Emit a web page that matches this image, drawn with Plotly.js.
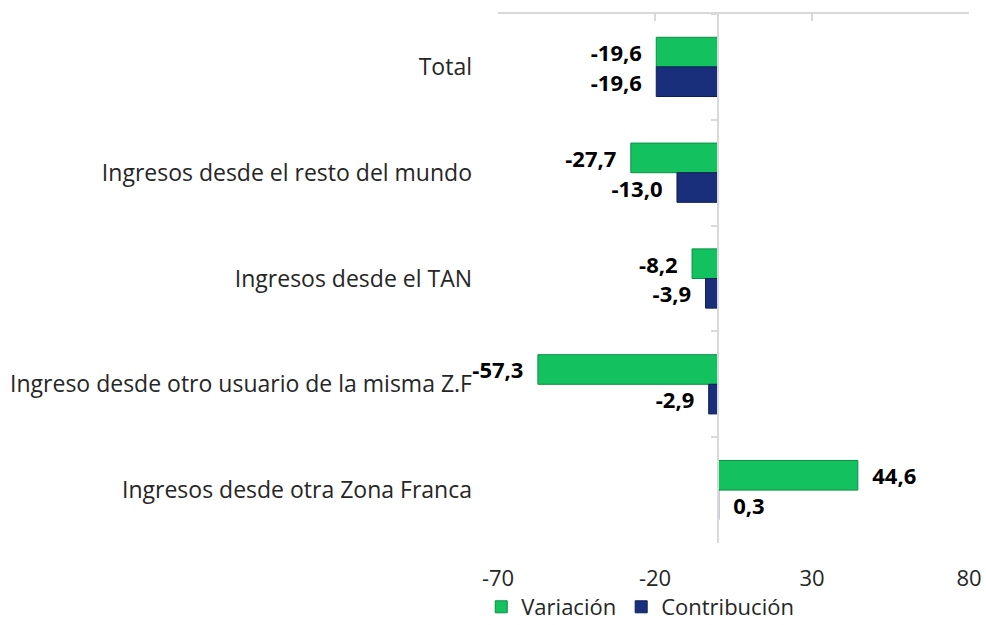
<!DOCTYPE html>
<html>
<head>
<meta charset="utf-8">
<script src="https://cdn.plot.ly/plotly-3.0.1.min.js"></script>
<style>html,body{margin:0;padding:0;background:#fff;}#chart{width:986px;height:625px;}</style>
</head>
<body>
<div id="chart"></div>
<script>
const categories = [
  "Total",
  "Ingresos desde el resto del mundo",
  "Ingresos desde el TAN",
  "Ingreso desde otro usuario de la misma Z.F",
  "Ingresos desde otra Zona Franca"
];
const variacion = [-19.6, -27.7, -8.2, -57.3, 44.6];
const contribucion = [-19.6, -13.0, -3.9, -2.9, 0.3];
const tickValues = [-70, -20, 30, 80];
const seriesNames = ["Variación", "Contribución"];

const FONT = "'Open Sans', sans-serif";
const NB = "\u00a0\u00a0";
function labelTemplate(vals) {
  return vals.map(v => v < 0 ? "%{x:.1f}" + NB : NB + "%{x:.1f}");
}
const traces = [
  {
    type: "bar", orientation: "h", name: seriesNames[0],
    y: categories, x: variacion,
    marker: {color: "#13c25f", line: {color: "#0b8f45", width: 1}},
    texttemplate: labelTemplate(variacion), textposition: "outside", cliponaxis: false,
    constraintext: "none",
    textfont: {family: FONT, size: 22, color: "#000", weight: "bold"},
    hoverinfo: "none"
  },
  {
    type: "bar", orientation: "h", name: seriesNames[1],
    y: categories, x: contribucion,
    marker: {color: "#1a2f7c", line: {color: "#0e1d55", width: 1}},
    texttemplate: labelTemplate(contribucion), textposition: "outside", cliponaxis: false,
    constraintext: "none",
    textfont: {family: FONT, size: 22, color: "#000", weight: "bold"},
    hoverinfo: "none"
  },
  {
    type: "scatter", mode: "markers", x: [0], y: [categories[0]],
    xaxis: "x2", yaxis: "y2", marker: {opacity: 0}, showlegend: false, hoverinfo: "none"
  }
];

const zeroPos = (0 - (-70)) / (80 - (-70));

const layout = {
  width: 986, height: 625,
  margin: {l: 498, r: 17, t: 14, b: 82, autoexpand: false},
  paper_bgcolor: "#fff", plot_bgcolor: "#fff",
  separators: ",.",
  barmode: "group", bargap: 0.44, bargroupgap: 0,
  font: {family: FONT, size: 22, color: "#262626"},
  showlegend: true,
  legend: {orientation: "h", x: 0.302, xanchor: "center", y: -0.121, yanchor: "middle",
           font: {family: FONT, size: 22, color: "#262626"}, itemwidth: 30, traceorder: "normal"},
  xaxis: {
    range: [-70, 80], tickvals: tickValues, ticktext: tickValues.map(String),
    showgrid: false, zeroline: false, showline: false, ticks: "",
    ticklabelstandoff: 20, tickfont: {family: FONT, size: 22, color: "#262626"}
  },
  xaxis2: {
    overlaying: "x", side: "top", anchor: "y", range: [-70, 80], tickvals: tickValues,
    showticklabels: false, showgrid: false, zeroline: false,
    showline: true, linecolor: "#d9d9d9", linewidth: 2,
    ticks: "inside", ticklen: 7, tickcolor: "#d9d9d9", tickwidth: 2
  },
  yaxis: {
    type: "category", categoryarray: categories, categoryorder: "array",
    range: [4.5, -0.5], autorange: false,
    showgrid: false, zeroline: false, showline: false, ticks: "",
    ticklabelstandoff: 25,
    tickfont: {family: FONT, size: 23, color: "#262626"}
  },
  yaxis2: {
    type: "category", categoryarray: categories, categoryorder: "array",
    overlaying: "y", anchor: "free", position: zeroPos, side: "left",
    range: [4.5, -0.5], autorange: false,
    showticklabels: false, showgrid: false, zeroline: false,
    showline: true, linecolor: "#d9d9d9", linewidth: 2,
    ticks: "outside", tickson: "boundaries", ticklen: 6, tickcolor: "#d9d9d9", tickwidth: 2
  }
};

Plotly.newPlot("chart", traces, layout, {displayModeBar: false, staticPlot: true});
</script>
</body>
</html>
